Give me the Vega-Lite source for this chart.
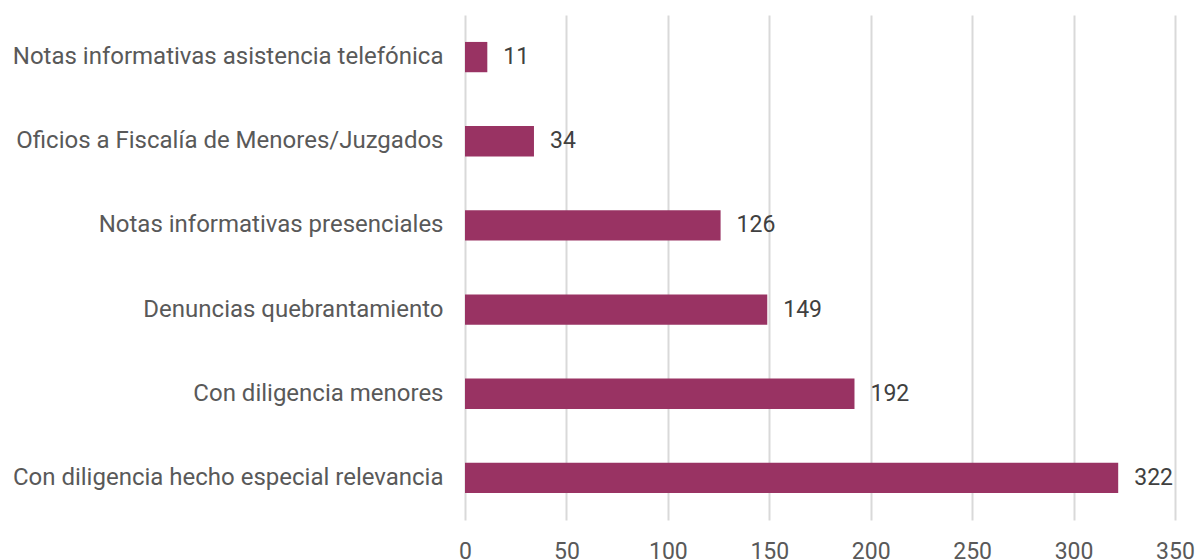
{
  "$schema": "https://vega.github.io/schema/vega-lite/v6.json",
  "autosize": "none",
  "width": 710,
  "height": 505,
  "padding": {"left": 465, "top": 15, "right": 22, "bottom": 39},
  "background": "white",
  "config": {"view": {"stroke": null}, "font": "Roboto"},
  "data": {
    "values": [
      {"categoria": "Notas informativas asistencia telefónica", "valor": 11},
      {"categoria": "Oficios a Fiscalía de Menores/Juzgados", "valor": 34},
      {"categoria": "Notas informativas presenciales", "valor": 126},
      {"categoria": "Denuncias quebrantamiento", "valor": 149},
      {"categoria": "Con diligencia menores", "valor": 192},
      {"categoria": "Con diligencia hecho especial relevancia", "valor": 322}
    ]
  },
  "encoding": {
    "y": {
      "field": "categoria", "type": "nominal", "sort": null,
      "scale": {"paddingInner": 0.64, "paddingOuter": 0.32},
      "axis": {"title": null, "domain": false, "ticks": false, "labelFontSize": 24, "labelColor": "#595959", "labelPadding": 22, "labelFont": "Roboto", "labelLimit": 500}
    },
    "x": {
      "field": "valor", "type": "quantitative",
      "scale": {"domain": [0, 350]},
      "axis": {"title": null, "domain": false, "ticks": false, "labelFlush": false, "values": [0,50,100,150,200,250,300,350], "labelFontSize": 23, "labelColor": "#595959", "labelPadding": 20, "labelFont": "Roboto", "gridColor": "#d9d9d9", "gridWidth": 2}
    }
  },
  "layer": [
    {"mark": {"type": "bar", "color": "#993363"}},
    {"mark": {"type": "text", "align": "left", "dx": 16, "fontSize": 23, "color": "#404040", "font": "Roboto"},
     "encoding": {"text": {"field": "valor", "type": "quantitative"}}}
  ]
}
